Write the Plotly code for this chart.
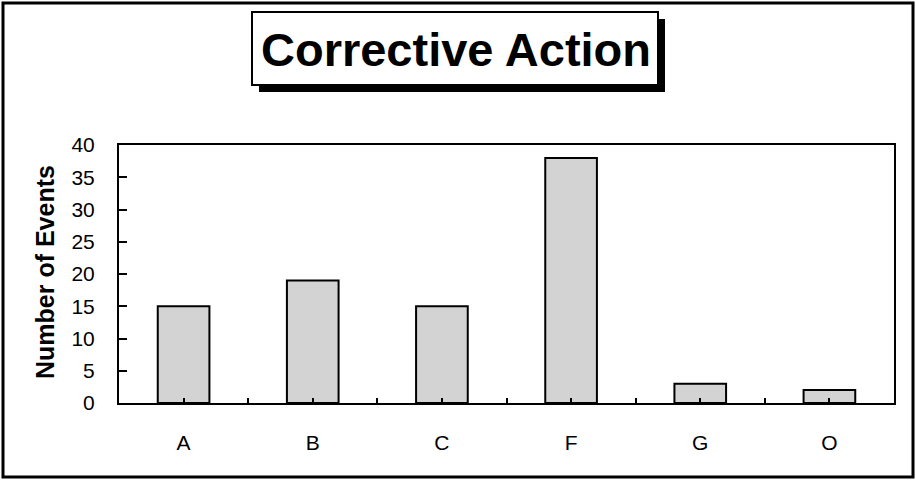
import plotly.graph_objects as go

categories = ["A", "B", "C", "F", "G", "O"]
events = [15, 19, 15, 38, 3, 2]
y_ticks = [0, 5, 10, 15, 20, 25, 30, 35, 40]
title_text = "Corrective Action"
y_title = "Number of Events"

W, H = 916, 480
L, R, T, B = 119, 894, 145, 403  # plot area in pixels


def px(x):
    return (x - L) / (R - L)


def py(y):
    return (B - y) / (B - T)


fig = go.Figure()
fig.add_trace(go.Bar(
    x=categories, y=events,
    marker=dict(color="#D3D3D3", line=dict(color="black", width=2)),
    width=0.4, hoverinfo="x+y",
))
# helper trace to get boundary ticks on an overlaid category axis
fig.add_trace(go.Scatter(
    x=categories, y=events, xaxis="x2", mode="markers",
    marker=dict(opacity=0), hoverinfo="skip", showlegend=False,
))

font = "Arial, Liberation Sans, sans-serif"

fig.update_layout(
    width=W, height=H,
    margin=dict(l=L, r=W - R, t=T, b=H - B),
    paper_bgcolor="white", plot_bgcolor="white",
    showlegend=False,
    font=dict(family=font, color="black", size=21),
    xaxis=dict(
        type="category", categoryarray=categories, range=[-0.5, len(categories) - 0.5],
        showline=True, linecolor="black", linewidth=2, mirror=True,
        ticks="inside", ticklen=5, tickwidth=1.5, tickcolor="black",
        showgrid=False, zeroline=False, ticklabelstandoff=20,
        tickfont=dict(size=21),
    ),
    xaxis2=dict(
        type="category", categoryarray=categories, range=[-0.5, len(categories) - 0.5],
        overlaying="x", side="bottom", tickson="boundaries",
        ticks="inside", ticklen=5, tickwidth=1.5, tickcolor="black",
        showticklabels=False, showgrid=False, showline=False, zeroline=False,
    ),
    yaxis=dict(
        range=[0, 40], tickvals=y_ticks,
        showline=True, linecolor="black", linewidth=2, mirror=True,
        ticks="inside", ticklen=8, tickwidth=1.5, tickcolor="black",
        showgrid=False, zeroline=False, ticklabelstandoff=18,
        tickfont=dict(size=21),
    ),
    shapes=[
        # outer chart border
        dict(type="rect", xref="paper", yref="paper",
             x0=px(3), x1=px(913), y0=py(3), y1=py(477),
             line=dict(color="black", width=3), fillcolor="rgba(0,0,0,0)", layer="above"),
        # title shadow
        dict(type="rect", xref="paper", yref="paper",
             x0=px(259), x1=px(665), y0=py(19), y1=py(92),
             line=dict(width=0), fillcolor="black", layer="above"),
        # title box
        dict(type="rect", xref="paper", yref="paper",
             x0=px(252), x1=px(658), y0=py(12), y1=py(85),
             line=dict(color="black", width=2), fillcolor="white", layer="above"),
    ],
    annotations=[
        dict(text=title_text, xref="paper", yref="paper",
             x=px(456), y=py(49), xanchor="center", yanchor="middle",
             showarrow=False, font=dict(size=47, family=font, color="black", weight="bold")),
        dict(text=y_title, xref="paper", yref="paper",
             x=px(45), y=py(272), xanchor="center", yanchor="middle", textangle=-90,
             showarrow=False, font=dict(size=25, family=font, color="black", weight="bold")),
    ],
)

fig.write_html(
    "out.html",
    config={"displayModeBar": False},
    post_script="document.body.style.margin='0';document.body.style.overflow='hidden';",
)
